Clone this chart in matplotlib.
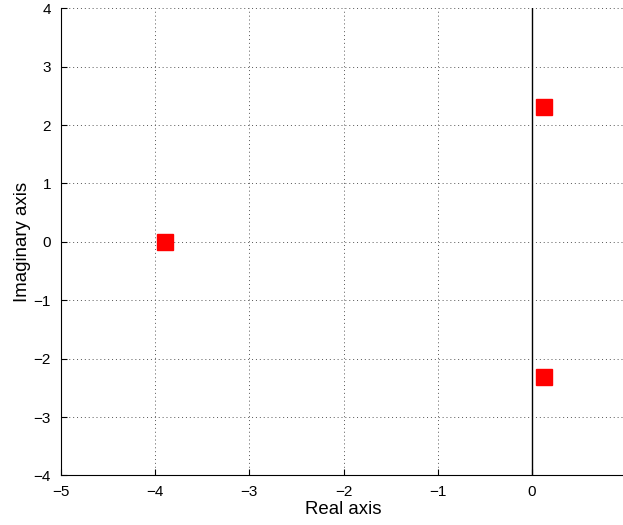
import matplotlib
matplotlib.use("Agg")
import matplotlib.pyplot as plt

plt.rcParams['font.family'] = ['Liberation Sans', 'DejaVu Sans']

real_parts = [-3.897, 0.128, 0.128]
imag_parts = [0.0, 2.305, -2.305]
xticks = [-5, -4, -3, -2, -1, 0]
yticks = [-4, -3, -2, -1, 0, 1, 2, 3, 4]

fig = plt.figure(figsize=(6.23, 5.25), dpi=100)
ax = fig.add_axes([0.0974, 0.0943, 0.908, 0.8899])
ax.set_xlim(-5, 1)
ax.set_ylim(-4, 4)
ax.set_xticks(xticks)
ax.set_yticks(yticks)
ax.set_xticklabels([str(t).replace('-', '\u2212') for t in xticks])
ax.set_yticklabels([str(t).replace('-', '\u2212') for t in yticks])
ax.grid(True, linestyle=(0, (1, 3)), color='#555555', linewidth=0.7)
ax.axvline(0, color='black', linewidth=1.0, zorder=2)
ax.plot(real_parts, imag_parts, 's', color='#ff0000', markersize=11.5,
        markeredgecolor='#ff0000', linestyle='none', zorder=3, clip_on=False)
ax.spines['top'].set_visible(False)
ax.spines['right'].set_visible(False)
ax.tick_params(direction='in', length=4, labelsize=11, width=0.8, pad=7)
ax.set_xlabel('Real axis', fontsize=13.4, labelpad=1)
ax.set_ylabel('Imaginary axis', fontsize=13.4, labelpad=2)
fig.savefig('out.png', dpi=100)
